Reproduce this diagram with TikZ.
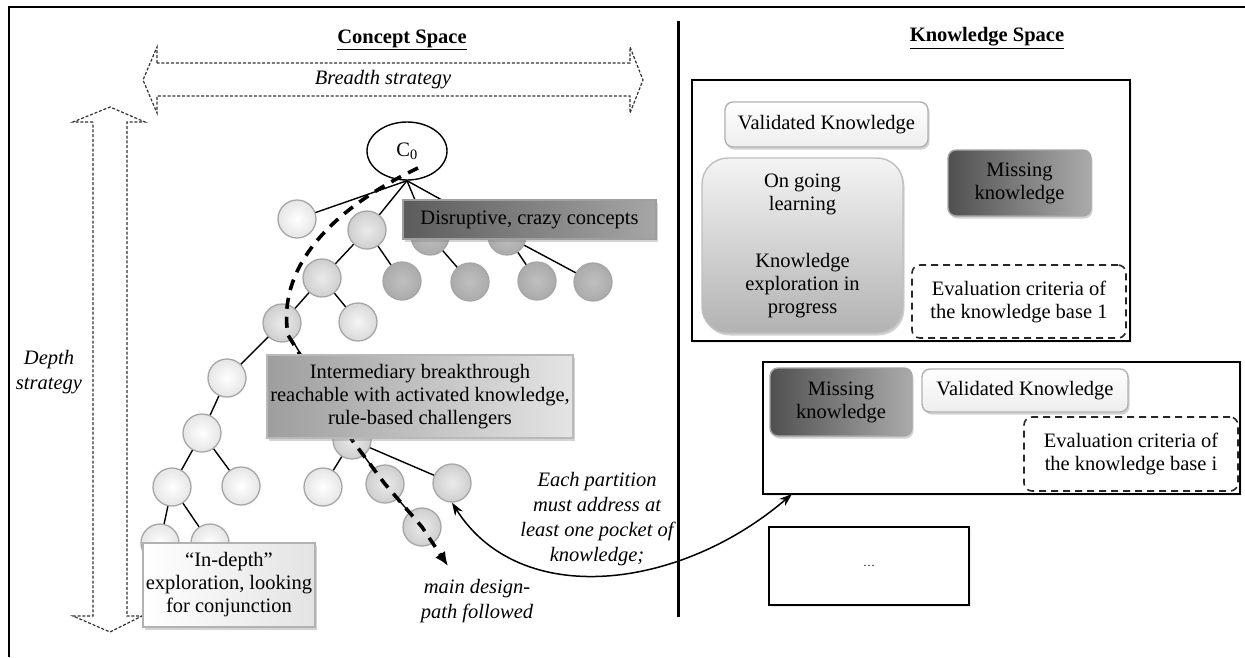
\documentclass[tikz,border=0pt]{standalone}
\usepackage{fontspec}
\setmainfont{Liberation Serif}
\usetikzlibrary{arrows.meta,shapes.geometric,shadows,backgrounds}
\definecolor{ballline}{HTML}{A6A6A6}
\definecolor{disL}{HTML}{5C5C5C}
\definecolor{disR}{HTML}{A6A6A6}
\definecolor{intL}{HTML}{9E9E9E}
\definecolor{intR}{HTML}{E4E4E4}
\definecolor{misL}{HTML}{505050}
\definecolor{misR}{HTML}{ABABAB}
\definecolor{onT}{HTML}{F4F4F4}
\definecolor{onB}{HTML}{B2B2B2}
\begin{document}
\begin{tikzpicture}[x=1pt,y=-1pt,
  font=\fontsize{20.5}{23}\selectfont,
  ball/.style={circle,minimum size=38pt,inner sep=0pt,line width=1.3pt},
  wball/.style={ball,draw=ballline,inner color=white,outer color=gray!20},
  gball/.style={ball,draw=ballline,inner color=gray!16,outer color=gray!38},
  lball/.style={ball,draw=ballline,inner color=gray!8,outer color=gray!30},
  dball/.style={ball,draw=gray!70,inner color=gray!50,outer color=gray!66},
  treeedge/.style={line width=1.4pt,black},
  shadowed/.style={drop shadow={opacity=0.35,shadow xshift=1.5pt,shadow yshift=-2.5pt}},
  lightshadow/.style={drop shadow={opacity=0.15,shadow xshift=1.5pt,shadow yshift=-2pt}},
  labelbox/.style={inner sep=0pt,align=center,shadowed},
  kbframe/.style={draw=black,line width=1.5pt,fill=white,inner sep=0pt,lightshadow},
  evalbox/.style={draw=black!85,line width=1.6pt,dash pattern=on 7pt off 5pt,rounded corners=8pt,inner sep=0pt,align=center},
  dasharrow/.style={draw=black!80,line width=1.2pt,dash pattern=on 3pt off 1.8pt},
  mainpath/.style={line width=3.6pt,dash pattern=on 11pt off 8pt,-{Latex[length=14pt,width=12pt]}},
  linkarrow/.style={line width=1.5pt,{Stealth[length=13pt,width=9pt]}-{Stealth[length=13pt,width=9pt]}},
  titletext/.style={font=\fontsize{20.5}{23}\selectfont\bfseries},
  notetext/.style={font=\fontsize{20.5}{25}\selectfont\itshape,align=center,inner sep=0pt}
]
\useasboundingbox (0,0) rectangle (1245,657);

% outer frame and divider
\draw[line width=1.5pt] (9,657) -- (9,7) -- (1245,7);
\draw[line width=3pt] (678,21) -- (678,617);

% titles
\node[titletext] (cstitle) at (402,40) {\underline{Concept Space}};
\node[titletext] (kstitle) at (987,38) {\underline{Knowledge Space}};

% breadth and depth arrows
\draw[dasharrow] (157,63) -- (157,47) -- (143,80) -- (157,113) -- (157,96) -- (630,96) -- (630,113) -- (643,80) -- (630,47) -- (630,63) -- cycle;
\node[notetext] (breadth) at (383,80) {Breadth strategy};
\draw[dasharrow] (93,122) -- (73,122) -- (110,107) -- (145,122) -- (127,122) -- (127,616) -- (142,616) -- (110,632) -- (73,616) -- (93,616) -- cycle;
\node[notetext] (depth) at (49,372) {Depth\\strategy};

% concept tree
\node[draw,ellipse,line width=1.4pt,minimum width=80pt,minimum height=58pt,inner sep=0pt,fill=white] (c0) at (407,151) {C\textsubscript{0}};
\node[wball] (a1) at (297,219) {};
\node[gball] (a2) at (367,230) {};
\node[dball] (a3) at (430,236) {};
\node[dball] (a4) at (507,236) {};
\node[gball] (b1) at (322,278) {};
\node[dball] (b2) at (402,281) {};
\node[dball] (b3) at (470,282) {};
\node[dball] (b4) at (537,281) {};
\node[dball] (b5) at (593,282) {};
\node[gball] (c1) at (282,323) {};
\node[lball] (c2) at (358,322) {};
\node[wball] (d1) at (227,378) {};
\node[gball] (e) at (352,440) {};
\node[wball] (e1) at (202,433) {};
\node[wball] (f1) at (172,487) {};
\node[wball] (f2) at (241,486) {};
\node[wball] (g1) at (160,543) {};
\node[wball] (g2) at (210,543) {};
\node[wball] (f3) at (323,487) {};
\node[gball] (f4) at (385,484) {};
\node[gball] (f5) at (452,483) {};
\node[gball] (g3) at (422,527) {};

\begin{pgfonlayer}{background}
\draw[treeedge] (c0.south) -- (a1.center);
\draw[treeedge] (c0.south) -- (a2.center);
\draw[treeedge] (c0.south) -- (a3.center);
\draw[treeedge] (c0.south) -- (a4.center);
\draw[treeedge] (a2.center) -- (b1.center);
\draw[treeedge] (a2.center) -- (b2.center);
\draw[treeedge] (a3.center) -- (b3.center);
\draw[treeedge] (a4.center) -- (b4.center);
\draw[treeedge] (a4.center) -- (b5.center);
\draw[treeedge] (b1.center) -- (c1.center);
\draw[treeedge] (b1.center) -- (c2.center);
\draw[treeedge] (c1.center) -- (d1.center);
\draw[treeedge] (c1.center) -- (e.center);
\draw[treeedge] (d1.center) -- (e1.center);
\draw[treeedge] (e1.center) -- (f1.center);
\draw[treeedge] (e1.center) -- (f2.center);
\draw[treeedge] (f1.center) -- (g1.center);
\draw[treeedge] (f1.center) -- (g2.center);
\draw[treeedge] (e.center) -- (f3.center);
\draw[treeedge] (e.center) -- (f4.center);
\draw[treeedge] (e.center) -- (f5.center);
\draw[treeedge] (f4.center) -- (g3.center);
\end{pgfonlayer}

% main design path
\coordinate (pstart) at (418,168);
\coordinate (pbend) at (288,335);
\coordinate (pathend) at (448,566);
\draw[mainpath] (pstart) .. controls (340,205) and (276,262) .. (pbend) -- (e.center) -- (f4.center) -- (g3.center) -- (pathend);

% label boxes on the tree
\node[labelbox,draw=gray!75,line width=1.2pt,left color=disL,right color=disR,minimum width=253pt,minimum height=39pt] (disr) at (529.5,219.5) {Disruptive, crazy concepts};
\node[labelbox,draw=gray!55,line width=1.2pt,left color=intL,right color=intR,minimum width=306pt,minimum height=83pt] (inter) at (420,396.5) {Intermediary breakthrough\\reachable with activated knowledge,\\rule-based challengers};
\node[labelbox,draw=gray!60,line width=1.2pt,left color=white,right color=gray!22,minimum width=172pt,minimum height=84pt] (indepth) at (229,585) {``In-depth''\\exploration, looking\\for conjunction};

\node[notetext] (mainlabel) at (477,601) {main design-\\path followed};
\node[notetext] (partition) at (597,519.5) {Each partition\\must address at\\least one pocket of\\knowledge;};

% knowledge space
\node[kbframe,minimum width=438pt,minimum height=261pt] (kb1) at (911,210.5) {};
\node[labelbox,draw=gray!60,line width=1.4pt,rounded corners=8pt,top color=white,bottom color=gray!14,minimum width=203pt,minimum height=45pt] (val1) at (826.5,124.5) {Validated Knowledge};
\node[labelbox,draw=gray!50,line width=1.4pt,rounded corners=26pt,top color=onT,bottom color=onB,minimum width=201pt,minimum height=175pt] (ongo) at (802.5,245.5) {On going\\learning\\[34pt]Knowledge\\exploration in\\progress};
\node[labelbox,draw=gray!70,line width=1.4pt,rounded corners=8pt,left color=misL,right color=misR,minimum width=143pt,minimum height=66pt] (miss1) at (1019.5,183) {Missing\\knowledge};
\node[evalbox,minimum width=214pt,minimum height=73pt] (eval1) at (1019,301.5) {Evaluation criteria of\\the knowledge base 1};

\node[kbframe,minimum width=477pt,minimum height=132pt] (kb2) at (1001.5,428) {};
\node[labelbox,draw=gray!70,line width=1.4pt,rounded corners=8pt,left color=misL,right color=misR,minimum width=142pt,minimum height=68pt] (miss2) at (841,402) {Missing\\knowledge};
\node[labelbox,draw=gray!60,line width=1.4pt,rounded corners=8pt,top color=white,bottom color=gray!14,minimum width=206pt,minimum height=43pt] (val2) at (1025,390.5) {Validated Knowledge};
\node[evalbox,minimum width=214pt,minimum height=74pt] (evali) at (1131,454) {Evaluation criteria of\\the knowledge base i};

\node[kbframe,minimum width=200pt,minimum height=78pt,font=\fontsize{12}{14}\selectfont] (kbn) at (869,566) {\dots};

% link arrow between partition and knowledge base
\coordinate (kb2foot) at (792,494);
\draw[linkarrow] (f5.south) .. controls (520,610) and (680,590) .. (kb2foot);
\end{tikzpicture}
\end{document}
